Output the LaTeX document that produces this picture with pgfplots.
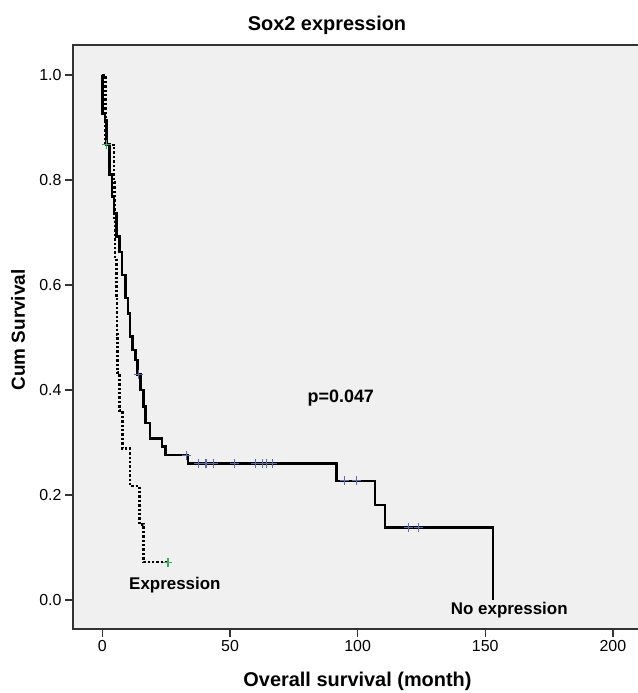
\documentclass[border=0pt]{standalone}
\usepackage{fontspec}
\setmainfont{Liberation Sans}
\usepackage{pgfplots}
\pgfplotsset{compat=1.18}
\definecolor{plotbg}{HTML}{F0F0F0}
\definecolor{censblue}{HTML}{5A6BB0}
\definecolor{censgreen}{HTML}{3DAA5C}

\begin{document}
\begin{tikzpicture}[x=1bp,y=1bp]
\useasboundingbox (0,0) rectangle (638,693);
\begin{axis}[
    at={(73bp,64bp)}, anchor=south west,
    scale only axis, width=568bp, height=584bp,
    xmin=-11.5, xmax=211, ymin=-0.0552, ymax=1.0571,
    xtick={0,50,100,150,200},
    ytick={0,0.2,0.4,0.6,0.8,1},
    yticklabel style={/pgf/number format/.cd, fixed, fixed zerofill, precision=1},
    /pgf/number format/assume math mode=true,
    ticklabel style={font=\fontsize{16}{18}\selectfont},
    tick align=outside, xtick pos=bottom, ytick pos=left,
    major tick length=8bp,
    axis line style={black!80, line width=1.3bp},
    tick style={black!80, line width=1.3bp},
    axis background/.style={fill=plotbg},
    clip=false,
]
% Expression (dotted)
\addplot[const plot, black, line width=2.5bp, dash pattern=on 2.4bp off 2bp] coordinates {
(0,1) (1.2,0.867) (4.5,0.795) (4.7,0.722) (5.0,0.650) (5.5,0.578) (5.7,0.506)
(5.9,0.433) (6.8,0.361) (7.8,0.289) (10.8,0.217) (14.6,0.144) (16.2,0.072) (25.7,0.072)
};
% No expression (solid)
\addplot[const plot, black, line width=2.6bp] coordinates {
(0,1) (0.05,0.927) (1.0,0.914) (1.7,0.867) (2.9,0.810) (3.8,0.768) (4.5,0.737)
(5.5,0.692) (6.8,0.663) (7.7,0.619) (9.0,0.575) (10.0,0.546) (10.8,0.502)
(11.8,0.476) (13.0,0.457) (13.8,0.430) (15.0,0.400) (16.0,0.368) (16.8,0.337)
(18.7,0.308) (23.3,0.292) (24.8,0.276) (33.5,0.260) (91.7,0.227) (106.8,0.181)
(110.7,0.138) (153.0,0.0)
};
% censored
\addplot[only marks, mark=+, mark size=4.5bp, censgreen, line width=1.2bp] coordinates {
(1.6,0.867) (25.7,0.072)
};
\addplot[only marks, mark=+, mark size=4.5bp, censblue, line width=1.2bp] coordinates {
(14.1,0.430) (33.0,0.276) (37.8,0.260) (40.6,0.260) (43.4,0.260) (51.9,0.260)
(60.0,0.260) (62.8,0.260) (64.3,0.260) (66.5,0.260) (94.7,0.227) (99.7,0.227)
(119.8,0.138) (123.8,0.138)
};
\node[font=\bfseries\fontsize{18}{20}\selectfont] at (axis cs:93.4,0.385) {p=0.047};
\node[font=\bfseries\fontsize{17}{19}\selectfont] at (axis cs:28.4,0.028) {Expression};
\node[font=\bfseries\fontsize{17}{19}\selectfont] at (axis cs:159.4,-0.019) {No expression};
\end{axis}
\node[anchor=base, font=\bfseries\fontsize{20}{22}\selectfont] at (327,662) {Sox2 expression};
\node[anchor=base, font=\bfseries\fontsize{20}{22}\selectfont] at (357.5,6) {Overall survival (month)};
\node[rotate=90, font=\bfseries\fontsize{19}{21}\selectfont] at (18,363) {Cum Survival};
\end{tikzpicture}
\end{document}
